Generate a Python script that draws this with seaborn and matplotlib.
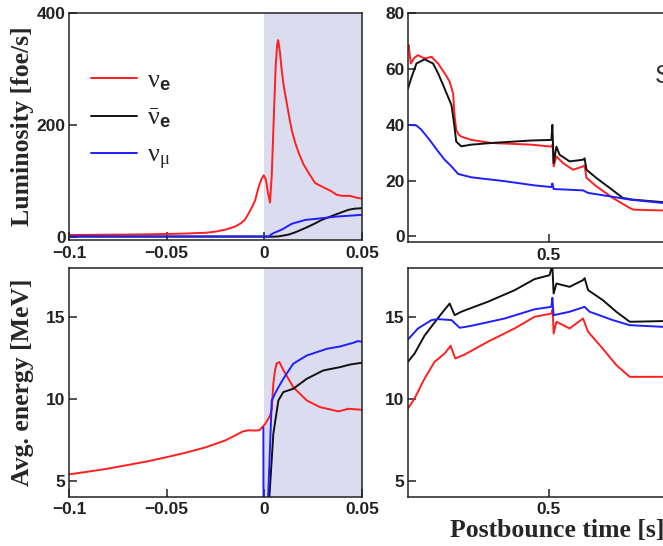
import numpy as np
import pandas as pd
import matplotlib
matplotlib.use("Agg")
import matplotlib.pyplot as plt
import seaborn as sns
from matplotlib.lines import Line2D

# ---------------- data ----------------
# Early phase (around bounce): luminosity [foe/s]
lum_e_t = [-0.1, -0.09, -0.08, -0.07, -0.06, -0.05, -0.04, -0.03, -0.025, -0.02, -0.015,
           -0.012, -0.01, -0.008, -0.006, -0.0047, -0.003, -0.0015, -0.0003, 0.0008, 0.0018,
           0.0029, 0.0038, 0.0048, 0.0058, 0.0066, 0.0071, 0.0080, 0.0089, 0.0100, 0.0115,
           0.0128, 0.0140, 0.0158, 0.0176, 0.0200, 0.0227, 0.0260, 0.0310, 0.0340, 0.0370,
           0.0400, 0.0439, 0.0470, 0.0500]
lum_e_v = [3, 3.2, 3.5, 3.8, 4.2, 4.8, 5.6, 7, 9, 12.5, 18, 24, 30, 42, 55, 65, 88, 103, 110,
           102, 80, 61, 110, 209, 305, 345, 352, 330, 298, 268, 239, 213, 191, 168, 150, 130,
           114, 96, 87, 82, 75, 73, 73, 70, 68]

lum_a_t = [-0.1, 0.0, 0.005, 0.0073, 0.0124, 0.016, 0.021, 0.025, 0.0294, 0.036, 0.043, 0.046, 0.05]
lum_a_v = [0, 0, 0, 0.5, 3.6, 8, 15.5, 22, 30, 39, 48, 50, 51]

lum_x_t = [-0.1, 0.0, 0.0025, 0.0035, 0.0048, 0.0089, 0.014, 0.021, 0.0294, 0.037, 0.05]
lum_x_v = [0.5, 0.5, 0.5, 4, 6.5, 12.5, 23, 30, 33, 36, 39]

# Early phase: mean energy [MeV]
ene_e_t = [-0.1, -0.09, -0.08, -0.07, -0.06, -0.05, -0.04, -0.03, -0.02, -0.015, -0.011,
           -0.008, -0.005, -0.0025, 0.0004, 0.0029, 0.0038, 0.0046, 0.0055, 0.0063, 0.0077,
           0.0097, 0.0148, 0.0217, 0.0285, 0.0340, 0.0379, 0.0430, 0.0500]
ene_e_v = [5.43, 5.6, 5.78, 6.0, 6.22, 6.48, 6.76, 7.08, 7.5, 7.8, 8.05, 8.12, 8.1, 8.12, 8.5,
           9.0, 9.4, 10.95, 11.8, 12.2, 12.28, 11.8, 10.75, 9.94, 9.53, 9.38, 9.27, 9.43, 9.37]

ene_a_t = [0.0015, 0.0046, 0.0072, 0.0097, 0.0148, 0.0217, 0.0302, 0.0387, 0.0439, 0.05]
ene_a_v = [2.0, 7.9, 9.94, 10.45, 10.65, 11.26, 11.77, 11.97, 12.13, 12.24]

ene_x_t = [-0.0005, -0.0004, 0.0013, 0.0038, 0.0063, 0.0097, 0.0148, 0.0217, 0.032, 0.0387,
           0.0456, 0.048, 0.05]
ene_x_v = [8.3, 2.0, 2.0, 9.94, 10.55, 11.26, 12.18, 12.68, 13.09, 13.23, 13.46, 13.56, 13.52]

# Late phase (postbounce): luminosity [foe/s]
late_lum_e_t = [0.05, 0.052, 0.059, 0.07, 0.082, 0.103, 0.125, 0.146, 0.167, 0.183, 0.194,
                0.199, 0.204, 0.212, 0.22, 0.252, 0.316, 0.444, 0.508, 0.512, 0.515, 0.524,
                0.545, 0.577, 0.609, 0.614, 0.62, 0.651, 0.704, 0.758, 0.77, 0.863]
late_lum_e_v = [67, 68.6, 62, 64, 65, 63.8, 64.4, 62, 58.5, 55.5, 51.3, 43, 38.2, 36.5, 35.8,
                34.6, 33.5, 32.9, 32.2, 33, 25.1, 28.7, 26.3, 23.9, 25.1, 25.5, 21, 18, 13.8,
                10.2, 9.6, 9.3]

late_lum_a_t = [0.05, 0.061, 0.077, 0.103, 0.13, 0.146, 0.162, 0.178, 0.189, 0.197, 0.204,
                0.22, 0.252, 0.316, 0.444, 0.508, 0.511, 0.515, 0.524, 0.534, 0.566, 0.609,
                0.614, 0.62, 0.651, 0.694, 0.736, 0.768, 0.863]
late_lum_a_v = [53, 57, 62, 63.5, 62, 58.5, 54.3, 50, 47, 40.6, 34, 32.3, 32.9, 33.5, 34.4,
                34.6, 40, 26.3, 32.2, 29.3, 26.9, 27.5, 28, 23.9, 21, 17.4, 13.8, 13.2, 12.3]

late_lum_x_t = [0.05, 0.077, 0.093, 0.119, 0.146, 0.167, 0.189, 0.21, 0.252, 0.359, 0.454,
                0.508, 0.511, 0.515, 0.609, 0.625, 0.704, 0.758, 0.863]
late_lum_x_v = [40, 39.8, 38.2, 34.6, 30.5, 27.5, 25.1, 22.4, 21.2, 19.8, 18.3, 17.7, 19, 17,
                16.5, 15.6, 14.2, 13.2, 12]

# Late phase: mean energy [MeV]
late_ene_e_t = [0.05, 0.071, 0.103, 0.135, 0.167, 0.186, 0.201, 0.231, 0.305, 0.39, 0.454,
                0.508, 0.512, 0.515, 0.524, 0.566, 0.609, 0.625, 0.672, 0.715, 0.758, 0.863]
late_ene_e_v = [9.45, 10.06, 11.28, 12.3, 12.8, 13.27, 12.5, 12.74, 13.52, 14.33, 15.04,
                15.24, 15.5, 14.02, 14.74, 14.33, 14.94, 14.13, 13.1, 12.1, 11.38, 11.38]

late_ene_a_t = [0.05, 0.071, 0.103, 0.135, 0.157, 0.183, 0.199, 0.22, 0.305, 0.39, 0.454,
                0.502, 0.511, 0.515, 0.524, 0.566, 0.609, 0.614, 0.625, 0.672, 0.715, 0.758,
                0.768, 0.863]
late_ene_a_v = [12.3, 12.8, 13.9, 14.7, 15.24, 15.85, 15.14, 15.35, 15.96, 16.66, 17.34,
                17.58, 18.2, 16.46, 17.07, 16.87, 17.28, 17.4, 16.67, 16.06, 15.35, 14.74,
                14.74, 14.78]

late_ene_x_t = [0.05, 0.082, 0.125, 0.146, 0.189, 0.215, 0.252, 0.359, 0.454, 0.508, 0.511,
                0.515, 0.566, 0.614, 0.63, 0.704, 0.758, 0.863]
late_ene_x_v = [13.66, 14.33, 14.84, 14.9, 14.84, 14.37, 14.49, 14.94, 15.5, 15.65, 16.2,
                15.14, 15.35, 15.65, 15.35, 14.84, 14.53, 14.43]

species_labels = [r'$\mathrm{\nu}_{\mathbf{e}}$',
                  r'$\bar{\mathrm{\nu}}_{\mathbf{e}}$',
                  r'$\mathrm{\nu}_{\mathrm{\mu}}$']
species_colors = ['#ff1f1f', '#111111', '#1f1fff']

early_xticks = [-0.1, -0.05, 0.0, 0.05]
early_xticklabels = ['\u22120.1', '\u22120.05', '0', '0.05']
late_xticks = [0.5]
late_xticklabels = ['0.5']
lum_early_yticks = [0, 200, 400]
lum_late_yticks = [0, 20, 40, 60, 80]
ene_yticks = [5, 10, 15]

# ---------------- style ----------------
sns.set_style("ticks")
plt.rcParams['font.family'] = ['Liberation Sans', 'DejaVu Sans']
plt.rcParams['mathtext.fontset'] = 'custom'
plt.rcParams['mathtext.rm'] = 'Liberation Serif'
plt.rcParams['mathtext.it'] = 'Liberation Serif:italic'
plt.rcParams['mathtext.bf'] = 'Liberation Sans:bold'

W, H = 663, 546
fig = plt.figure(figsize=(W / 100, H / 100), dpi=100)


def px_axes(left, top, right, bottom):
    return fig.add_axes([left / W, 1 - bottom / H, (right - left) / W, (bottom - top) / H])


ax_tl = px_axes(69, 13.3, 362, 240)
ax_tr = px_axes(408, 13.3, 705.5, 242)
ax_bl = px_axes(69, 268.3, 362, 496.5)
ax_br = px_axes(408, 268.3, 705.5, 496.5)

shade = '#dcdcf0'
for ax in (ax_tl, ax_bl):
    ax.axvspan(0.0, 0.05, color=shade, lw=0, zorder=0)


def draw(ax, t, v, color):
    df = pd.DataFrame({'t': t, 'v': v})
    sns.lineplot(data=df, x='t', y='v', ax=ax, color=color, lw=1.4,
                 estimator=None, sort=False, legend=False)


draw(ax_tl, lum_e_t, lum_e_v, species_colors[0])
draw(ax_tl, lum_a_t, lum_a_v, species_colors[1])
draw(ax_tl, lum_x_t, lum_x_v, species_colors[2])

draw(ax_bl, ene_e_t, ene_e_v, species_colors[0])
draw(ax_bl, ene_a_t, ene_a_v, species_colors[1])
draw(ax_bl, ene_x_t, ene_x_v, species_colors[2])

draw(ax_tr, late_lum_e_t, late_lum_e_v, species_colors[0])
draw(ax_tr, late_lum_a_t, late_lum_a_v, species_colors[1])
draw(ax_tr, late_lum_x_t, late_lum_x_v, species_colors[2])

draw(ax_br, late_ene_e_t, late_ene_e_v, species_colors[0])
draw(ax_br, late_ene_a_t, late_ene_a_v, species_colors[1])
draw(ax_br, late_ene_x_t, late_ene_x_v, species_colors[2])

ax_tl.set_xlim(-0.1, 0.05)
ax_bl.set_xlim(-0.1, 0.05)
ax_tr.set_xlim(0.05, 1.0)
ax_br.set_xlim(0.05, 1.0)
ax_tl.set_ylim(-6, 400)
ax_tr.set_ylim(-2, 80)
ax_bl.set_ylim(4.08, 18.0)
ax_br.set_ylim(4.08, 18.0)

tick_font = dict(family='Liberation Sans', weight='bold', size=12.5)
for ax in (ax_tl, ax_bl):
    ax.set_xticks(early_xticks)
    ax.set_xticklabels(early_xticklabels, fontdict=tick_font)
for ax in (ax_tr, ax_br):
    ax.set_xticks(late_xticks)
    ax.set_xticklabels(late_xticklabels, fontdict=tick_font)
ax_tl.set_yticks(lum_early_yticks)
ax_tl.set_yticklabels([str(v) for v in lum_early_yticks], fontdict=tick_font)
ax_tr.set_yticks(lum_late_yticks)
ax_tr.set_yticklabels([str(v) for v in lum_late_yticks], fontdict=tick_font)
for ax in (ax_bl, ax_br):
    ax.set_yticks(ene_yticks)
    ax.set_yticklabels([str(v) for v in ene_yticks], fontdict=tick_font)

for ax in (ax_tl, ax_tr, ax_bl, ax_br):
    ax.set_xlabel('')
    ax.set_ylabel('')
    ax.tick_params(direction='in', length=6, width=1.1, colors='#222222')
    ax.tick_params(axis='y', pad=2.5)
    ax.tick_params(axis='x', pad=4)
    for s in ax.spines.values():
        s.set_visible(True)
        s.set_linewidth(1.1)
        s.set_color('#222222')

label_font = dict(family='Liberation Serif', weight='bold', size=18.5)
ax_tl.set_ylabel('Luminosity [foe/s]', fontdict=label_font)
ax_tl.yaxis.set_label_coords(-0.118, 0.5)
ax_bl.set_ylabel('Avg. energy [MeV]', fontdict=label_font)
ax_bl.yaxis.set_label_coords(-0.118, 0.5)
ax_br.set_xlabel('Postbounce time [s]', fontdict=label_font)
ax_br.xaxis.set_label_coords(0.5, -0.1)

handles = [Line2D([], [], color=c, lw=1.4) for c in species_colors]
ax_tl.legend(handles, species_labels, loc='upper left', bbox_to_anchor=(0.04, 0.805),
             frameon=False, fontsize=19, handlelength=1.75, handletextpad=0.35,
             labelspacing=0.5, borderaxespad=0)

fig.text(655 / W, 1 - 83 / H, 'S', fontsize=18, family='Liberation Sans', color='#333333',
         ha='left', va='baseline')

fig.savefig('out.png', dpi=100)
